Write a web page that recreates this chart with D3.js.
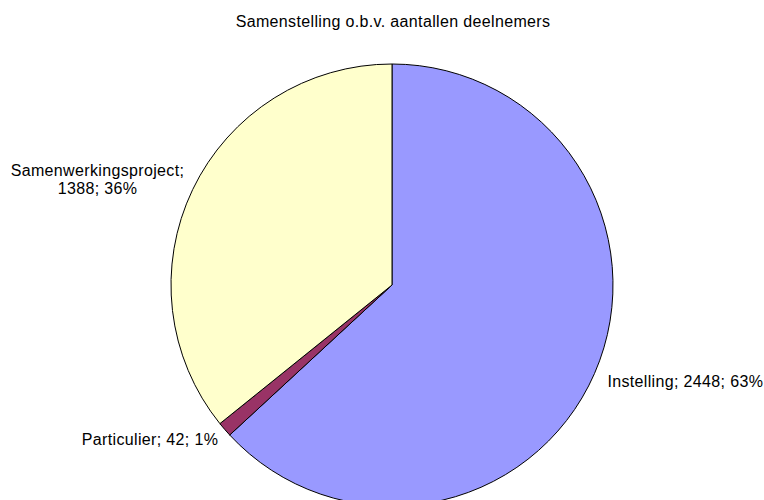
<!DOCTYPE html>
<html><head><meta charset="utf-8">
<script src="https://cdn.jsdelivr.net/npm/d3@7"></script>
<style>body{margin:0;background:#fff}svg{display:block}text{font-family:"Liberation Sans",Arial,sans-serif;fill:#000;font-size:16px;letter-spacing:0.35px}</style>
</head><body><svg id="c" width="764" height="500"></svg>
<script>
const categories = ["Instelling", "Particulier", "Samenwerkingsproject"];
const values = [2448, 42, 1388];
const percents = ["63%", "1%", "36%"];
const colors = ["#9999FF", "#993366", "#FFFFCC"];
const title = "Samenstelling o.b.v. aantallen deelnemers";

const svg = d3.select("#c");
const cx = 392, cy = 285, R = 221;

svg.append("text").attr("x", cx + 1).attr("y", 27).attr("text-anchor", "middle").text(title);

const data = categories.map((c, i) => ({ cat: c, val: values[i], pct: percents[i], col: colors[i] }));
const pie = d3.pie().value(d => d.val).sort(null);
const arcs = pie(data);
const arc = d3.arc().innerRadius(0).outerRadius(R);
const g = svg.append("g").attr("transform", `translate(${cx},${cy})`);
g.selectAll("path").data(arcs).join("path")
  .attr("d", arc).attr("fill", d => d.data.col)
  .attr("stroke", "#000").attr("stroke-width", 1);

// label anchors: radius from centre plus small offsets
const labelR = [234, 248, 238];
const labelDx = [1, 14, 7];
const labelDy = [8, -2, 0];
arcs.forEach((a, i) => {
  const m = (a.startAngle + a.endAngle) / 2;
  const px = cx + labelR[i] * Math.sin(m) + labelDx[i];
  const py = cy - labelR[i] * Math.cos(m) + labelDy[i];
  const right = Math.sin(m) >= 0;
  const d = a.data;
  if (i === 2) {
    const t = svg.append("text").attr("text-anchor", "middle");
    const l1 = t.append("tspan").text(d.cat + ";");
    const w = l1.node().getComputedTextLength();
    const mx = px - w / 2;
    l1.attr("x", mx).attr("y", py - 6);
    t.append("tspan").attr("x", mx).attr("y", py + 12).text(d.val + "; " + d.pct);
  } else {
    svg.append("text")
      .attr("text-anchor", right ? "start" : "end")
      .attr("x", px).attr("y", py)
      .text(d.cat + "; " + d.val + "; " + d.pct);
  }
});
</script></body></html>
